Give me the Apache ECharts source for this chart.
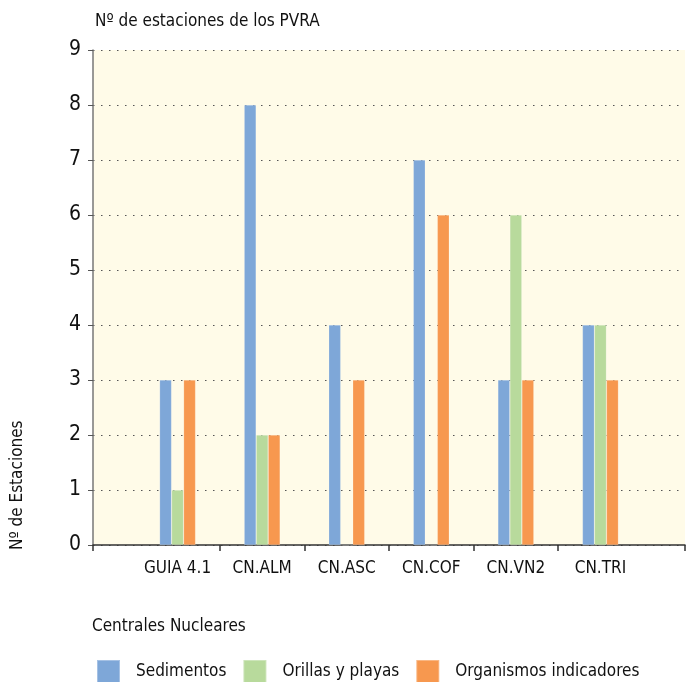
<!DOCTYPE html>
<html><head><meta charset="utf-8">
<script src="https://cdn.jsdelivr.net/npm/echarts@6/dist/echarts.min.js"></script>
<style>html,body{margin:0;padding:0;background:#fff}#c{width:688px;height:682px}</style>
</head><body><div id="c"></div>
<script>
const categories = ['', 'GUIA 4.1', 'CN.ALM', 'CN.ASC', 'CN.COF', 'CN.VN2', 'CN.TRI', ''];
const seriesNames = ['Sedimentos', 'Orillas y playas', 'Organismos indicadores'];
const sedimentos = [null, 3, 8, 4, 7, 3, 4, null];
const orillas = [null, 1, 2, 0, 0, 6, 4, null];
const organismos = [null, 3, 2, 3, 6, 3, 3, null];
const yTicks = [0, 1, 2, 3, 4, 5, 6, 7, 8, 9];
const tickPositions = [0, 1.5, 2.5, 3.5, 4.5, 5.5, 7];
const colors = ['#7ea7d8', '#b8da9c', '#f7984f'];
const FONT = '"DejaVu Sans Condensed","Liberation Sans Narrow",sans-serif';

const chart = echarts.init(document.getElementById('c'));
const mk = (name, data, i) => ({
  name, type: 'bar', data, xAxisIndex: 0, yAxisIndex: 0,
  barWidth: 12, barGap: '0%',
  itemStyle: { color: colors[i], borderColor: 'rgba(255,255,255,0.3)', borderWidth: 0.6 }
});
chart.setOption({
  animation: false,
  textStyle: { fontFamily: FONT },
  title: [
    { text: 'Nº de estaciones de los PVRA', left: 90, top: 8,
      textStyle: { fontFamily: FONT, fontSize: 17, fontWeight: 'normal', color: '#111' } },
    { text: 'Centrales Nucleares', left: 87, top: 613,
      textStyle: { fontFamily: FONT, fontSize: 17, fontWeight: 'normal', color: '#111' } }
  ],
  graphic: [{
    type: 'text', x: 9, y: 550, rotation: Math.PI / 2,
    style: { text: 'Nº de Estaciones', fontFamily: FONT, fontSize: 17, fill: '#111',
      textAlign: 'left', textVerticalAlign: 'top' }
  }],
  legend: {
    data: seriesNames, left: 91, top: 654, itemWidth: 23, itemHeight: 24, itemGap: 16,
    icon: 'rect', width: 640,
    textStyle: { fontFamily: FONT, fontSize: 17, color: '#111', padding: [4, 0, 0, 11] }
  },
  grid: { left: 93, top: 50, right: 0, bottom: 137, backgroundColor: '#fffbe8', show: true, borderWidth: 0 },
  xAxis: [
    { type: 'category', data: categories, boundaryGap: false,
      axisLine: { lineStyle: { color: '#333', width: 1.5 } },
      axisTick: { show: false },
      axisLabel: { fontFamily: FONT, fontSize: 17, color: '#111', margin: 15, interval: 0 },
      splitLine: { show: false } },
    { type: 'value', min: 0, max: 7, position: 'bottom',
      axisLine: { show: false },
      axisTick: { show: true, customValues: tickPositions, length: 6, lineStyle: { color: '#333', width: 1.5 } },
      axisLabel: { show: false },
      splitLine: { show: false } }
  ],
  yAxis: {
    type: 'value', min: yTicks[0], max: yTicks[yTicks.length - 1], interval: 1,
    axisLine: { show: true, lineStyle: { color: '#777', width: 1.5 } },
    axisTick: { show: true, length: 5, lineStyle: { color: '#555' } },
    axisLabel: { fontFamily: FONT, fontSize: 21, color: '#111', margin: 12 },
    splitLine: { show: true, lineStyle: { color: '#555', type: [1.5, 6.5], width: 1.2 } }
  },
  series: [mk(seriesNames[0], sedimentos, 0), mk(seriesNames[1], orillas, 1), mk(seriesNames[2], organismos, 2)]
});
</script></body></html>
